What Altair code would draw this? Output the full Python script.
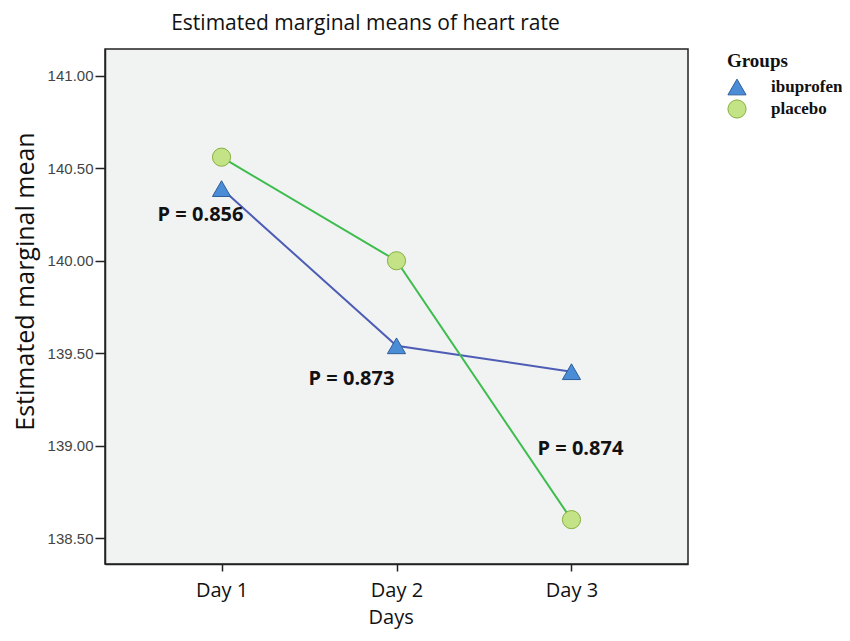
import altair as alt
import pandas as pd

days = ["Day 1", "Day 2", "Day 3"]
groups = ["ibuprofen", "placebo"]
ibuprofen = [140.39, 139.54, 139.40]
placebo = [140.56, 140.00, 138.60]

p_labels = ["P = 0.856", "P = 0.873", "P = 0.874"]
p_y = [140.25, 139.36, 138.98]

rows = []
for d, v in zip(days, ibuprofen):
    rows.append({"Days": d, "Group": "ibuprofen", "mean": v})
for d, v in zip(days, placebo):
    rows.append({"Days": d, "Group": "placebo", "mean": v})
df = pd.DataFrame(rows)
ann = pd.DataFrame({"Days": days, "label": p_labels, "mean": p_y})

FONT = "Open Sans"

x = alt.X("Days:N", sort=days, title="Days",
          scale=alt.Scale(type="point", padding=0.666),
          axis=alt.Axis(labelFont=FONT, labelFontSize=20, labelColor="#111",
                        labelPadding=9, tickColor="#222", tickSize=7, tickWidth=1.5,
                        domainColor="#222", domainWidth=1.5,
                        titleFont=FONT, titleFontSize=20, titleFontWeight="normal",
                        titleColor="#111", titlePadding=7, titleX=263, titleAnchor="start",
                        labelAngle=0))
y = alt.Y("mean:Q", title="Estimated marginal mean",
          scale=alt.Scale(domain=[138.36, 141.145], nice=False, zero=False),
          axis=alt.Axis(values=[138.5, 139.0, 139.5, 140.0, 140.5, 141.0], format=".2f",
                        labelFont="Liberation Sans", labelFontSize=15, labelColor="#444",
                        labelPadding=2, tickColor="#222", tickSize=10, tickWidth=1.5,
                        domainColor="#222", domainWidth=1.5, grid=False,
                        titleFont=FONT, titleFontSize=25, titleFontWeight="normal",
                        titleColor="#111", titleAngle=-90, titleX=-80, titleY=232,
                        titleAlign="center", titleBaseline="middle"))

line_colors = {"ibuprofen": "#4d5db5", "placebo": "#3dbd4d"}
lines = [
    alt.Chart(df).transform_filter(alt.datum.Group == g)
    .mark_line(strokeWidth=2, color=line_colors[g])
    .encode(x=x, y=y)
    for g in groups
]

legend = alt.Legend(title="Groups", orient="none", legendX=622, legendY=3,
                    titleFont="Liberation Serif", titleFontSize=19, titleFontWeight="bold",
                    titleColor="#111", titlePadding=6,
                    labelFont="Liberation Serif", labelFontSize=17, labelFontWeight="bold",
                    labelColor="#111", labelOffset=24, labelLimit=200,
                    symbolSize=330, symbolStrokeWidth=1, rowPadding=0)

points = alt.Chart(df).mark_point(size=330, filled=True, opacity=1, strokeWidth=1).encode(
    x=x, y=y,
    shape=alt.Shape("Group:N", scale=alt.Scale(domain=groups, range=["triangle-up", "circle"]),
                    legend=legend),
    fill=alt.Fill("Group:N", scale=alt.Scale(domain=groups, range=["#4a8dd6", "#c4e386"]),
                  legend=legend),
    stroke=alt.Stroke("Group:N", scale=alt.Scale(domain=groups, range=["#2e5e9c", "#86b040"]),
                      legend=legend),
)

dxs = [-21, -45, 9]
texts = []
for d, dx in zip(days, dxs):
    texts.append(
        alt.Chart(ann).transform_filter(alt.datum.Days == d)
        .mark_text(font=FONT, fontSize=20, fontWeight="bold", color="#111", dx=dx)
        .encode(x=x, y=y, text="label:N")
    )

chart = alt.layer(*lines, points, *texts).properties(
    width=583, height=515,
    autosize="none",
    padding={"left": 97, "top": 41, "right": 154, "bottom": 69},
    background="white",
    title=alt.TitleParams("Estimated marginal means of heart rate", font=FONT, fontSize=21,
                          fontWeight="normal", color="#111", anchor="middle", dx=-31,
                          offset=15),
).configure_view(fill="#f1f2f2", stroke="#222", strokeWidth=1.5)

chart.save("out.html", embed_options={"renderer": "svg", "actions": False})
